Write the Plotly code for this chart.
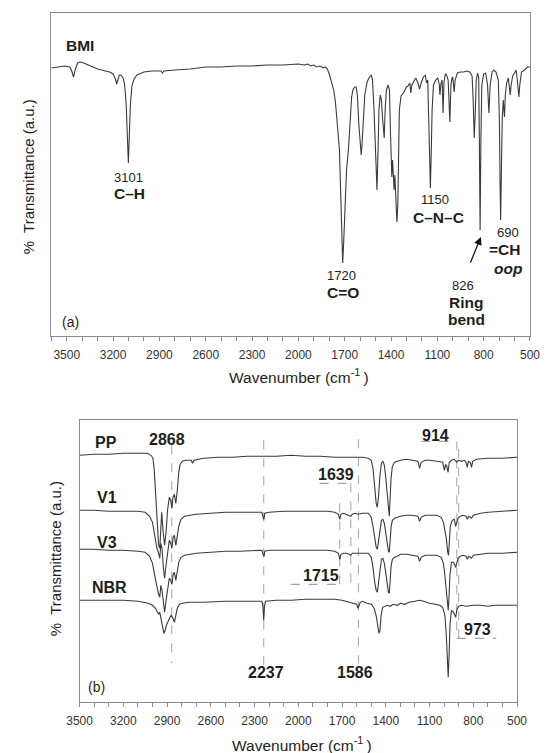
import plotly.graph_objects as go

# ---------------- Panel (a): BMI ----------------
bmi_wn = [3600, 3560, 3514, 3480, 3468, 3456, 3446, 3430, 3413, 3390, 3350, 3300, 3250, 3222, 3200, 3185,
          3177, 3170, 3160, 3150, 3135, 3125, 3115, 3108, 3101, 3095, 3088, 3078, 3065, 3045, 3020, 3000,
          2950, 2890, 2880, 2872, 2800, 2700, 2600, 2500, 2400, 2300, 2200, 2100, 2000, 1960, 1940, 1920,
          1900, 1880, 1860, 1840, 1825, 1812, 1800, 1785, 1771, 1760, 1750, 1742, 1734, 1725, 1718, 1713,
          1706, 1697, 1688, 1676, 1665, 1655, 1647, 1635, 1626, 1618, 1608, 1598, 1593, 1588, 1580, 1570,
          1555, 1540, 1528, 1520, 1510, 1500, 1491, 1484, 1478, 1470, 1462, 1455, 1450, 1444, 1438, 1430,
          1419, 1410, 1404, 1398, 1395, 1390, 1385, 1380, 1375, 1368, 1362, 1356, 1350, 1346, 1335, 1320,
          1300, 1290, 1278, 1272, 1265, 1250, 1240, 1228, 1215, 1205, 1190, 1178, 1170, 1162, 1156, 1150,
          1145, 1139, 1134, 1125, 1110, 1097, 1088, 1083, 1077, 1069, 1063, 1057, 1048, 1040, 1030, 1019,
          1012, 1005, 1000, 991, 985, 970, 950, 930, 910, 890, 875, 868, 861, 855, 848, 839,
          832, 828, 823, 818, 812, 800, 787, 775, 766, 758, 745, 735, 720, 705, 698, 694,
          690, 686, 680, 673, 665, 660, 651, 640, 634, 628, 622, 612, 600, 590, 582, 576,
          572, 566, 555, 535, 515, 500]
bmi_t = [268, 269, 270, 269, 265, 259, 266, 273, 274, 273, 270, 267, 265, 264, 262, 257,
         252, 256, 261, 261, 258, 251, 231, 201, 173, 201, 231, 250, 257, 261, 263, 264,
         265, 265, 263, 265, 266, 267, 269, 269, 270, 270, 271, 271, 272, 271, 272, 270,
         271, 269, 270, 268, 269, 267, 262, 254, 246, 234, 219, 201, 186, 136, 91, 73,
         96, 136, 166, 186, 221, 239, 246, 249, 249, 241, 211, 186, 181, 191, 221, 241,
         254, 259, 261, 256, 226, 176, 146, 186, 226, 241, 236, 218, 209, 198, 226, 246,
         251, 246, 206, 166, 159, 176, 156, 146, 161, 136, 114, 131, 186, 226, 240, 243,
         249, 250, 253, 243, 251, 256, 258, 254, 247, 253, 259, 261, 253, 256, 226, 186,
         148, 186, 226, 251, 256, 258, 252, 241, 252, 256, 223, 254, 262, 261, 256, 214,
         251, 258, 259, 244, 256, 263, 264, 264, 265, 264, 260, 236, 198, 221, 256, 263,
         258, 196, 106, 196, 251, 262, 263, 251, 223, 251, 264, 266, 264, 256, 216, 156,
         116, 156, 216, 236, 219, 241, 253, 258, 248, 241, 251, 260, 263, 266, 256, 244,
         239, 251, 264, 266, 269, 269]

# ---------------- Panel (b): PP, V1, V3, NBR ----------------
pp_wn = [3500, 3400, 3300, 3200, 3100, 3036, 3010, 2997, 2988, 2978, 2968, 2958, 2950, 2943, 2937, 2928,
         2917, 2907, 2897, 2885, 2875, 2867, 2860, 2850, 2840, 2830, 2820, 2810, 2795, 2770, 2735, 2725,
         2715, 2650, 2550, 2450, 2350, 2237, 2150, 2050, 1950, 1850, 1750, 1650, 1560, 1520, 1500, 1488,
         1476, 1466, 1458, 1450, 1440, 1430, 1420, 1410, 1400, 1390, 1382, 1376, 1371, 1364, 1355, 1340,
         1320, 1300, 1260, 1220, 1180, 1168, 1158, 1130, 1100, 1050, 1010, 998, 990, 982, 973, 965,
         950, 930, 915, 900, 880, 860, 848, 841, 834, 820, 812, 804, 780, 700, 600, 500]
pp_t = [247, 248, 248, 249, 249, 249, 247, 244, 232, 207, 177, 157, 154, 177, 190, 172,
        157, 170, 192, 205, 202, 194, 205, 208, 199, 212, 230, 238, 241, 242, 242, 239,
        242, 244, 245, 245, 246, 246, 246, 247, 246, 246, 245, 245, 245, 244, 242, 234,
        214, 199, 195, 206, 227, 239, 241, 237, 224, 204, 190, 186, 202, 224, 236, 240,
        241, 242, 243, 242, 241, 234, 240, 242, 242, 241, 240, 232, 238, 236, 230, 240,
        242, 243, 240, 242, 241, 242, 239, 235, 241, 240, 235, 241, 243, 244, 244, 245]

v1_wn = [3500, 3400, 3300, 3200, 3100, 3050, 3020, 3000, 2985, 2970, 2960, 2950, 2943, 2935, 2925, 2917,
         2907, 2895, 2885, 2875, 2867, 2858, 2850, 2840, 2830, 2820, 2805, 2780, 2700, 2600, 2500, 2400,
         2300, 2250, 2240, 2235, 2230, 2200, 2100, 2000, 1900, 1800, 1750, 1725, 1715, 1708, 1690, 1670,
         1650, 1640, 1630, 1610, 1590, 1560, 1520, 1500, 1488, 1476, 1466, 1458, 1450, 1440, 1430, 1420,
         1410, 1400, 1390, 1382, 1376, 1371, 1364, 1355, 1340, 1320, 1300, 1260, 1220, 1180, 1168, 1158,
         1130, 1100, 1050, 1020, 1005, 995, 985, 975, 970, 965, 958, 945, 930, 921, 914, 905,
         890, 870, 850, 841, 830, 812, 800, 750, 700, 600, 500]
v1_t = [192, 192, 191, 191, 191, 190, 186, 180, 167, 154, 150, 144, 159, 154, 134, 124,
        137, 154, 162, 159, 154, 165, 167, 157, 165, 176, 183, 186, 188, 189, 190, 190,
        190, 190, 184, 183, 189, 190, 191, 191, 191, 191, 190, 188, 183, 188, 189, 188,
        187, 186, 188, 189, 188, 189, 189, 185, 176, 162, 155, 153, 162, 174, 182, 183,
        179, 169, 157, 151, 150, 162, 175, 182, 184, 185, 186, 187, 187, 186, 181, 185,
        187, 187, 187, 185, 180, 172, 164, 150, 147, 158, 176, 182, 183, 176, 180, 184,
        186, 187, 186, 183, 186, 184, 187, 189, 190, 191, 192]

v3_wn = [3500, 3400, 3300, 3200, 3100, 3050, 3020, 3000, 2985, 2970, 2960, 2950, 2943, 2935, 2925, 2917,
         2907, 2895, 2885, 2875, 2867, 2858, 2850, 2840, 2830, 2820, 2805, 2780, 2700, 2600, 2500, 2400,
         2300, 2250, 2240, 2235, 2230, 2200, 2100, 2000, 1900, 1800, 1750, 1725, 1715, 1708, 1690, 1670,
         1650, 1640, 1630, 1600, 1560, 1520, 1500, 1488, 1476, 1466, 1458, 1450, 1440, 1430, 1420, 1410,
         1400, 1390, 1382, 1376, 1371, 1364, 1355, 1340, 1320, 1300, 1260, 1220, 1180, 1168, 1158, 1130,
         1100, 1050, 1020, 1005, 995, 985, 978, 972, 966, 960, 950, 935, 921, 914, 905, 890,
         870, 850, 841, 830, 812, 800, 750, 700, 600, 500]
v3_t = [153, 153, 152, 152, 151, 150, 146, 139, 127, 114, 109, 105, 117, 112, 97, 90,
        102, 117, 124, 122, 118, 128, 130, 122, 130, 140, 145, 147, 149, 150, 151, 151,
        152, 152, 147, 146, 151, 152, 152, 152, 152, 152, 151, 149, 143, 148, 149, 149,
        148, 147, 149, 149, 149, 149, 145, 135, 120, 112, 110, 119, 134, 143, 144, 139,
        129, 117, 110, 109, 122, 136, 143, 145, 146, 148, 148, 147, 146, 141, 145, 147,
        147, 147, 145, 139, 127, 110, 97, 92, 107, 127, 140, 140, 135, 139, 144, 146,
        147, 146, 143, 146, 144, 147, 148, 149, 149, 150]

nbr_wn = [3500, 3400, 3300, 3200, 3100, 3060, 3030, 3000, 2980, 2965, 2958, 2950, 2940, 2930, 2922, 2915,
          2905, 2894, 2880, 2872, 2860, 2850, 2842, 2830, 2815, 2795, 2750, 2650, 2500, 2400, 2300, 2250,
          2243, 2237, 2232, 2225, 2150, 2050, 1950, 1850, 1750, 1700, 1650, 1620, 1600, 1590, 1584, 1575,
          1560, 1530, 1500, 1480, 1465, 1455, 1447, 1440, 1432, 1422, 1410, 1390, 1370, 1350, 1320, 1300,
          1270, 1240, 1200, 1170, 1140, 1100, 1060, 1030, 1010, 995, 985, 978, 972, 966, 960, 950,
          935, 921, 912, 900, 880, 850, 800, 750, 700, 650, 600, 500]
nbr_t = [102, 102, 102, 102, 101, 100, 99, 97, 94, 90, 88, 90, 84, 75, 69, 71,
         77, 81, 85, 87, 84, 80, 85, 94, 98, 99, 100, 100, 101, 101, 101, 101,
         96, 82, 96, 101, 102, 102, 103, 103, 103, 102, 100, 99, 98, 94, 96, 100,
         101, 99, 98, 94, 86, 76, 69, 72, 87, 95, 96, 97, 96, 98, 97, 99,
         98, 100, 101, 102, 101, 99, 98, 97, 95, 87, 67, 42, 25, 47, 77, 92,
         90, 85, 93, 96, 97, 96, 97, 97, 96, 97, 97, 97]

LINE = "#3a3a3a"
FRAME = "#8a8a8a"
GUIDE = "#a0a0a0"
TXT = "#1e1e1e"
FONT = "Liberation Sans, Arial, sans-serif"

fig = go.Figure()
fig.add_trace(go.Scatter(x=bmi_wn, y=bmi_t, mode="lines", line=dict(color=LINE, width=1.1),
                         xaxis="x", yaxis="y", showlegend=False))
for wn, t in [(pp_wn, pp_t), (v1_wn, v1_t), (v3_wn, v3_t), (nbr_wn, nbr_t)]:
    fig.add_trace(go.Scatter(x=wn, y=t, mode="lines", line=dict(color=LINE, width=1.1),
                             xaxis="x2", yaxis="y2", showlegend=False))

W, H = 551, 753
def px(v): return v / W
def py(v): return 1 - v / H

xcommon = dict(showgrid=False, zeroline=False, showline=True, mirror=True, linecolor=FRAME, linewidth=1.3,
               ticks="outside", ticklen=4, tickcolor=FRAME, tickmode="linear", tick0=500, dtick=300,
               minor=dict(ticks="outside", ticklen=4, tickcolor=FRAME, dtick=100, tick0=500),
               tickfont=dict(family=FONT, size=12, color="#333"), ticklabelstandoff=3,
               ticklabeloverflow="allow")
ycommon = dict(showgrid=False, zeroline=False, showline=True, mirror=True, linecolor=FRAME, linewidth=1.3,
               ticks="", showticklabels=False)

fig.update_layout(
    width=W, height=H, margin=dict(l=0, r=0, t=0, b=0),
    paper_bgcolor="white", plot_bgcolor="white",
    xaxis=dict(domain=[px(40), px(539.5)], range=[3600, 500], anchor="y", **xcommon),
    yaxis=dict(domain=[py(336), py(13.3)], range=[0, 322.7], anchor="x", **ycommon),
    xaxis2=dict(domain=[px(69.5), px(526)], range=[3500, 500], anchor="y2", **xcommon),
    yaxis2=dict(domain=[py(702.3), py(420)], range=[0, 282.3], anchor="x2", **ycommon),
)

ann = []
def label(text, x, y, ax="x", size=13, bold=False, italic=False, xanchor="center", bg=None):
    t = text
    if bold:
        t = "<b>" + t + "</b>"
    if italic:
        t = "<i>" + t + "</i>"
    d = dict(text=t, x=x, y=y, xref=ax, yref=ax.replace("x", "y"), showarrow=False,
             xanchor=xanchor, yanchor="middle", font=dict(family=FONT, size=size, color=TXT))
    if bg:
        d["bgcolor"] = bg
    ann.append(d)

# Panel (a) labels
label("BMI", 3516, 291, "x", 15.5, True, xanchor="left")
label("3101", 3101, 159, "x", 13)
label("C–H", 3091, 143, "x", 15.5, True)
label("1720", 1720, 61, "x", 13)
label("C=O", 1713, 44, "x", 15.5, True)
label("1150", 1114, 137, "x", 13)
label("C–N–C", 1095, 119, "x", 15.5, True)
label("690", 642, 104, "x", 13)
label("=CH", 666, 87, "x", 15.5, True)
label("oop", 643, 68, "x", 15.5, True, True)
label("826", 935, 51, "x", 13)
label("Ring", 916, 34, "x", 15.5, True)
label("bend", 909, 17, "x", 15.5, True)
label("(a)", 3545, 14, "x", 14, xanchor="left")

ann.append(dict(x=818, y=99, ax=905, ay=66, xref="x", yref="y", axref="x", ayref="y",
                showarrow=True, arrowhead=2, arrowsize=1.2, arrowwidth=1.3, arrowcolor="#111", text=" "))

# Panel (b) labels
label("PP", 3409, 260, "x2", 16, True, xanchor="left")
label("V1", 3391, 205, "x2", 16, True, xanchor="left")
label("V3", 3391, 160, "x2", 16, True, xanchor="left")
label("NBR", 3426, 115, "x2", 16, True, xanchor="left")
label("(b)", 3453, 15, "x2", 14, xanchor="left")
label("2868", 2900, 263, "x2", 16, True)
label("2237", 2224, 30, "x2", 16, True)
label("1586", 1612, 30, "x2", 16, True, bg="white")
label("1639", 1744, 228, "x2", 16, True)
label("1715", 1843, 127, "x2", 16, True)
label("914", 1058, 267, "x2", 16, True)
label("973", 768, 73, "x2", 16, True)

# axis titles
ann.append(dict(text="Wavenumber (cm<sup>-1 </sup>)", x=px(298.6), y=py(376), xref="paper", yref="paper",
                showarrow=False, xanchor="center", yanchor="middle", font=dict(family=FONT, size=15.5, color=TXT)))
ann.append(dict(text="Wavenumber (cm<sup>-1 </sup>)", x=px(302), y=py(744), xref="paper", yref="paper",
                showarrow=False, xanchor="center", yanchor="middle", font=dict(family=FONT, size=15.5, color=TXT)))
ann.append(dict(text="%  Transmittance (a.u.)", x=px(16), y=py(177), xref="paper", yref="paper", textangle=-90,
                showarrow=False, xanchor="center", yanchor="middle", font=dict(family=FONT, size=15, color=TXT)))
ann.append(dict(text="%  Transmittance (a.u.)", x=px(44), y=py(559), xref="paper", yref="paper", textangle=-90,
                showarrow=False, xanchor="center", yanchor="middle", font=dict(family=FONT, size=15, color=TXT)))
fig.update_layout(annotations=ann)

# Guide lines in panel (b)
shapes = []
def seg(x0, y0, x1, y1, color=GUIDE, dash="dash"):
    shapes.append(dict(type="line", xref="x2", yref="y2", x0=x0, y0=y0, x1=x1, y1=y1,
                       line=dict(color=color, width=1, dash=dash), layer="below"))

seg(2868, 257, 2868, 39)
seg(2237, 262, 2237, 37)
seg(1588, 263, 1588, 14)
seg(1854, 219, 1640, 219, "#8c8c8c")
seg(1640, 219, 1640, 117)
seg(2052, 118, 1716, 118, "#8c8c8c")
seg(1716, 118, 1716, 204)
seg(1156, 261, 913, 261, "#8c8c8c")
seg(913, 261, 913, 65)
seg(913, 64, 643, 64, "#8c8c8c")
seg(900, 64, 900, 257)
fig.update_layout(shapes=shapes)

fig.write_html("out.html", config={"displayModeBar": False},
               post_script="document.body.style.margin='0px';")
